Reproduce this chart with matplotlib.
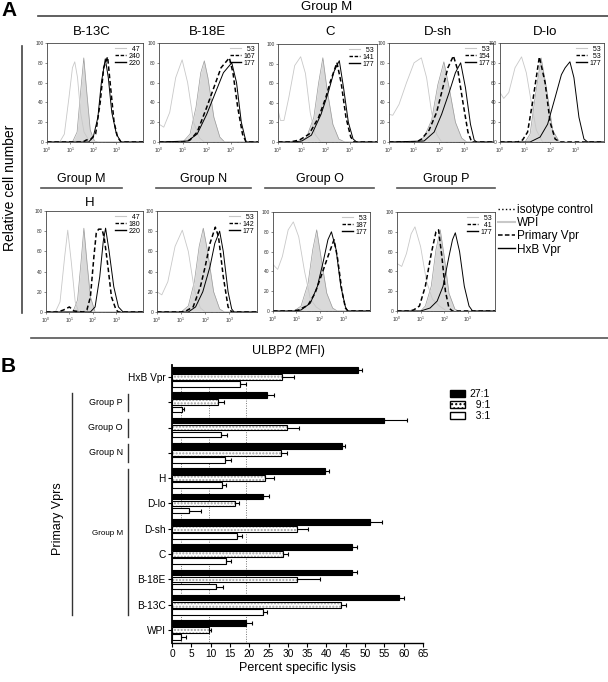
import numpy as np
import matplotlib
matplotlib.use("Agg")
import matplotlib.pyplot as plt
import matplotlib.transforms as mtransforms
from matplotlib.lines import Line2D
from matplotlib.patches import Patch

plt.rcParams['font.family'] = ['Liberation Sans', 'DejaVu Sans']

# ---------------- panel A data: (log10 MFI, relative cell number)
b13c_iso = [(0, 0), (0.55, 0), (0.75, 8), (0.95, 45), (1.1, 75), (1.2, 81), (1.32, 65), (1.45, 30), (1.6, 10), (1.8, 2), (2.0, 0), (4.15, 0)]
b13c_wpi = [(0, 0), (1.1, 0), (1.3, 10), (1.45, 50), (1.59, 85), (1.72, 50), (1.87, 12), (2.05, 1), (2.2, 0), (4.15, 0)]
b13c_prim = [(0, 0), (1.55, 0), (1.7, 2), (1.9, 3), (2.1, 8), (2.3, 40), (2.45, 75), (2.62, 86), (2.75, 55), (2.9, 20), (3.05, 5), (3.2, 0), (4.15, 0)]
b13c_hxb = [(0, 0), (1.8, 0), (2.0, 5), (2.2, 25), (2.35, 60), (2.52, 84), (2.65, 65), (2.8, 30), (3.0, 8), (3.2, 0), (4.15, 0)]

b18e_iso = [(0, 18), (0.2, 15), (0.45, 30), (0.7, 65), (0.97, 83), (1.2, 60), (1.45, 20), (1.7, 4), (1.9, 0), (4.15, 0)]
b18e_wpi = [(0, 0), (1.0, 0), (1.3, 8), (1.55, 35), (1.75, 70), (1.9, 82), (2.05, 65), (2.3, 25), (2.55, 5), (2.75, 0), (4.15, 0)]
b18e_prim = [(0, 0), (1.1, 0), (1.3, 2), (1.6, 10), (2.0, 35), (2.3, 55), (2.6, 75), (2.95, 85), (3.1, 70), (3.3, 35), (3.5, 8), (3.65, 0), (4.15, 0)]
b18e_hxb = [(0, 0), (1.2, 1), (1.6, 8), (2.0, 28), (2.4, 52), (2.7, 70), (3.05, 80), (3.25, 60), (3.45, 20), (3.65, 0), (4.15, 0)]

c_iso = [(0, 33), (0.1, 22), (0.25, 22), (0.45, 45), (0.7, 78), (0.95, 87), (1.15, 70), (1.35, 30), (1.55, 8), (1.8, 0), (4.15, 0)]
c_wpi = [(0, 0), (0.9, 0), (1.2, 5), (1.5, 25), (1.7, 60), (1.88, 86), (2.05, 55), (2.3, 18), (2.55, 3), (2.8, 0), (4.15, 0)]
c_prim = [(0, 0), (0.5, 0), (0.9, 2), (1.3, 8), (1.7, 25), (2.0, 45), (2.2, 62), (2.47, 81), (2.65, 60), (2.85, 25), (3.05, 5), (3.2, 0), (4.15, 0)]
c_hxb = [(0, 0), (0.6, 0), (1.0, 1), (1.4, 7), (1.8, 28), (2.1, 50), (2.35, 72), (2.57, 83), (2.75, 55), (2.95, 20), (3.15, 3), (3.3, 0), (4.15, 0)]

dsh_iso = [(0, 28), (0.15, 27), (0.4, 38), (0.7, 60), (1.0, 80), (1.29, 85), (1.5, 65), (1.7, 30), (1.9, 8), (2.1, 0), (4.15, 0)]
dsh_wpi = [(0, 0), (1.1, 0), (1.4, 5), (1.7, 22), (1.95, 58), (2.19, 81), (2.4, 55), (2.65, 20), (2.9, 4), (3.1, 0), (4.15, 0)]
dsh_prim = [(0, 0), (1.1, 0), (1.3, 3), (1.6, 12), (1.9, 30), (2.15, 55), (2.35, 75), (2.57, 87), (2.75, 72), (2.95, 40), (3.15, 10), (3.3, 0), (4.15, 0)]
dsh_hxb = [(0, 0), (1.4, 1), (1.8, 10), (2.1, 28), (2.4, 50), (2.65, 70), (2.86, 80), (3.05, 55), (3.25, 18), (3.4, 2), (3.5, 0), (4.15, 0)]

dlo_iso = [(0, 50), (0.15, 44), (0.35, 50), (0.6, 75), (0.86, 86), (1.05, 70), (1.25, 40), (1.45, 12), (1.7, 0), (4.15, 0)]
dlo_wpi = [(0, 0), (1.0, 0), (1.2, 8), (1.4, 45), (1.64, 85), (1.85, 55), (2.1, 12), (2.35, 1), (2.5, 0), (4.15, 0)]
dlo_prim = [(0, 0), (0.7, 0), (0.9, 2), (1.1, 10), (1.3, 40), (1.57, 86), (1.8, 60), (2.0, 20), (2.2, 3), (2.4, 0), (4.15, 0)]
dlo_hxb = [(0, 0), (1.2, 0), (1.6, 5), (1.9, 18), (2.2, 45), (2.45, 68), (2.6, 75), (2.79, 81), (2.95, 65), (3.15, 25), (3.35, 3), (3.5, 0), (4.15, 0)]

h_iso = [(0, 0), (0.4, 0), (0.6, 10), (0.8, 55), (0.93, 81), (1.08, 50), (1.25, 10), (1.4, 0), (4.15, 0)]
h_wpi = [(0, 0), (1.15, 0), (1.35, 12), (1.5, 50), (1.62, 83), (1.75, 50), (1.9, 15), (2.1, 0), (4.15, 0)]
h_prim = [(0, 0), (0.5, 0), (0.75, 2), (1.0, 5), (1.2, 1), (1.6, 0), (1.75, 2), (1.9, 15), (2.05, 55), (2.15, 78), (2.25, 82), (2.4, 82), (2.5, 72), (2.65, 45), (2.8, 15), (3.0, 2), (3.1, 0), (4.15, 0)]
h_hxb = [(0, 0), (1.9, 0), (2.1, 5), (2.3, 35), (2.45, 70), (2.55, 83), (2.7, 60), (2.9, 25), (3.1, 5), (3.3, 0), (4.15, 0)]

n_iso = [(0, 20), (0.2, 17), (0.45, 30), (0.75, 65), (1.05, 81), (1.3, 60), (1.55, 22), (1.8, 4), (2.0, 0), (4.15, 0)]
n_wpi = [(0, 0), (1.0, 0), (1.3, 6), (1.55, 30), (1.75, 65), (1.92, 83), (2.1, 60), (2.35, 20), (2.6, 3), (2.8, 0), (4.15, 0)]
n_prim = [(0, 0), (1.0, 0), (1.2, 1), (1.5, 5), (1.8, 25), (2.0, 45), (2.2, 68), (2.42, 84), (2.55, 75), (2.75, 35), (2.95, 5), (3.1, 0), (4.15, 0)]
n_hxb = [(0, 0), (1.3, 0), (1.6, 5), (1.9, 20), (2.2, 45), (2.4, 68), (2.6, 80), (2.75, 60), (2.95, 20), (3.1, 3), (3.2, 0), (4.15, 0)]

o_iso = [(0, 47), (0.2, 42), (0.4, 55), (0.65, 82), (0.87, 90), (1.1, 75), (1.35, 40), (1.6, 12), (1.85, 4), (2.1, 0), (4.15, 0)]
o_wpi = [(0, 0), (0.9, 0), (1.2, 5), (1.5, 28), (1.7, 62), (1.87, 82), (2.05, 55), (2.3, 18), (2.55, 3), (2.75, 0), (4.15, 0)]
o_prim = [(0, 0), (0.8, 0), (1.1, 1), (1.5, 6), (1.8, 18), (2.1, 38), (2.35, 55), (2.61, 72), (2.75, 55), (2.95, 20), (3.1, 3), (3.2, 0), (4.15, 0)]
o_hxb = [(0, 0), (0.9, 0), (1.2, 1), (1.6, 8), (1.9, 25), (2.15, 50), (2.35, 72), (2.5, 80), (2.7, 62), (2.9, 25), (3.1, 4), (3.2, 0), (4.15, 0)]

p_iso = [(0, 48), (0.2, 45), (0.4, 58), (0.6, 78), (0.76, 85), (1.0, 65), (1.25, 30), (1.5, 12), (1.8, 5), (2.1, 0), (4.15, 0)]
p_wpi = [(0, 0), (1.0, 0), (1.2, 5), (1.45, 25), (1.65, 62), (1.83, 82), (2.0, 55), (2.2, 18), (2.45, 2), (2.6, 0), (4.15, 0)]
p_prim = [(0, 0), (0.5, 0), (0.7, 1), (0.95, 5), (1.2, 25), (1.45, 58), (1.65, 80), (1.76, 82), (1.9, 55), (2.05, 20), (2.2, 3), (2.35, 0), (4.15, 0)]
p_hxb = [(0, 0), (1.0, 0), (1.4, 3), (1.7, 10), (1.95, 25), (2.2, 55), (2.35, 72), (2.47, 79), (2.65, 60), (2.85, 25), (3.05, 5), (3.2, 0), (4.15, 0)]

# MFI values printed in each histogram (WPI, primary Vpr, HxB Vpr)
mfi_b13c = [47, 240, 220]
mfi_b18e = [53, 167, 177]
mfi_c = [53, 141, 177]
mfi_dsh = [53, 154, 177]
mfi_dlo = [53, 53, 177]
mfi_h = [47, 180, 220]
mfi_n = [53, 142, 177]
mfi_o = [53, 187, 177]
mfi_p = [53, 41, 177]

# ---------------- panel B data
cats = ["HxB Vpr", "Group P", "Group O", "Group N", "H", "D-lo", "D-sh", "C", "B-18E", "B-13C", "WPI"]
lysis_27 = [48.1, 24.7, 54.9, 44.1, 39.7, 23.5, 51.2, 46.7, 46.5, 58.7, 19.2]
err_27 = [1.2, 1.8, 5.9, 0.7, 1.0, 1.7, 3.3, 1.1, 1.5, 1.3, 1.4]
lysis_9 = [28.4, 11.8, 29.7, 28.1, 24.0, 16.4, 32.4, 28.8, 32.3, 43.7, 9.7]
err_9 = [3.3, 1.7, 3.2, 1.7, 2.4, 0.9, 2.7, 1.2, 6.1, 1.3, 0.3]
lysis_3 = [17.7, 2.7, 12.7, 13.7, 12.9, 4.3, 16.8, 13.9, 11.4, 23.6, 2.4]
err_3 = [1.5, 0.4, 1.5, 1.5, 1.1, 3.2, 1.3, 1.4, 1.7, 1.0, 1.3]

W, H = 608, 682
fig = plt.figure(figsize=(6.08, 6.82), dpi=100)


def fx(px):
    return px / W


def fy(py):
    return 1 - py / H


def box(l, t, w, h):
    return [l / W, 1 - (t + h) / H, w / W, h / H]


def histo(rect, iso, wpi, prim, hxb, nums):
    ax = fig.add_axes(rect)
    x = 10 ** np.array([p[0] for p in wpi])
    y = [p[1] for p in wpi]
    ax.fill_between(x, y, color='#d9d9d9', lw=0)
    ax.plot(x, y, color='#9a9a9a', lw=0.5)
    ax.plot(10 ** np.array([p[0] for p in iso]), [p[1] for p in iso], color='#c8c8c8', lw=0.6)
    ax.plot(10 ** np.array([p[0] for p in hxb]), [p[1] for p in hxb], color='black', lw=0.7)
    ax.plot(10 ** np.array([p[0] for p in prim]), [p[1] for p in prim], color='black', lw=1.1,
            dashes=(3, 1.8))
    ax.set_xscale('log')
    ax.set_xlim(1, 10 ** 4.15)
    ax.set_ylim(0, 100)
    ax.set_xticks([1, 10, 100, 1000])
    ax.set_yticks(range(0, 101, 20))
    ax.tick_params(labelsize=3.5, length=1.5, width=0.4, pad=1, colors='#333333')
    ax.tick_params(which='minor', length=0.8, width=0.3)
    for s in ax.spines.values():
        s.set_linewidth(0.6)
        s.set_color('#444444')
    hs = [Line2D([], [], color='#c8c8c8', lw=0.8),
          Line2D([], [], color='black', lw=1.0, dashes=(2.5, 1.2)),
          Line2D([], [], color='black', lw=1.0)]
    labs = [str(v).rjust(3, '\u2007') for v in nums]
    ax.legend(hs, labs, loc='upper right', fontsize=5, frameon=False, handlelength=1.6,
              handletextpad=0.3, labelspacing=0.0, borderpad=0.2, borderaxespad=0.2)
    return ax


# ---------------- panel A
fig.text(fx(9), fy(10), "A", fontsize=15, fontweight='bold', ha='center', va='center')
fig.add_artist(Line2D([fx(38), fx(608)], [fy(16), fy(16)], color='#444444', lw=1.2))
fig.text(fx(327), fy(7), "Group M", fontsize=9.5, ha='center', va='center')

top = [("B-13C", (47, 43, 96, 99), 92, b13c_iso, b13c_wpi, b13c_prim, b13c_hxb, mfi_b13c),
       ("B-18E", (159, 43, 99, 99), 207, b18e_iso, b18e_wpi, b18e_prim, b18e_hxb, mfi_b18e),
       ("C", (278, 44, 99, 98), 330, c_iso, c_wpi, c_prim, c_hxb, mfi_c),
       ("D-sh", (389, 43, 104, 99), 438, dsh_iso, dsh_wpi, dsh_prim, dsh_hxb, mfi_dsh),
       ("D-lo", (500, 43, 104, 99), 545, dlo_iso, dlo_wpi, dlo_prim, dlo_hxb, mfi_dlo)]
for name, r, tx, a, b, c, d, m in top:
    histo(box(*r), a, b, c, d, m)
    fig.text(fx(tx), fy(32), name, fontsize=9.5, ha='center', va='center')

bottom = [((46, 211, 97, 101), h_iso, h_wpi, h_prim, h_hxb, mfi_h),
          ((157, 211, 100, 101), n_iso, n_wpi, n_prim, n_hxb, mfi_n),
          ((273, 212, 97, 99), o_iso, o_wpi, o_prim, o_hxb, mfi_o),
          ((397, 212, 98, 99), p_iso, p_wpi, p_prim, p_hxb, mfi_p)]
for r, a, b, c, d, m in bottom:
    histo(box(*r), a, b, c, d, m)

# group headers for lower row
for name, x0, x1 in [("Group M", 41, 122), ("Group N", 156, 251), ("Group O", 265, 374), ("Group P", 397, 495)]:
    fig.text(fx((x0 + x1) / 2), fy(179), name, fontsize=9, ha='center', va='center')
    fig.add_artist(Line2D([fx(x0), fx(x1)], [fy(188), fy(188)], color='#555555', lw=1.2))
fig.text(fx(90), fy(203), "H", fontsize=9.5, ha='center', va='center')

# overall legend
leg_h = [Line2D([], [], color='black', lw=1.0, ls=':'),
         Line2D([], [], color='#c8c8c8', lw=1.5),
         Line2D([], [], color='black', lw=1.1, dashes=(3, 1.5)),
         Line2D([], [], color='black', lw=1.0)]
fig.legend(leg_h, ["isotype control", "WPI", "Primary Vpr", "HxB Vpr"], loc='upper left',
           bbox_to_anchor=(fx(498), fy(204)), fontsize=8.5, frameon=False, handlelength=1.4,
           handletextpad=0.2, labelspacing=0.1, borderpad=0, borderaxespad=0)

fig.add_artist(Line2D([fx(22), fx(22)], [fy(46), fy(313)], color='#444444', lw=1.2))
fig.text(fx(10), fy(188), "Relative cell number", fontsize=10, rotation=90, ha='center', va='center')
fig.add_artist(Line2D([fx(31), fx(608)], [fy(338), fy(338)], color='#555555', lw=1.2))
fig.text(fx(288), fy(351), "ULBP2 (MFI)", fontsize=9, ha='center', va='center')

# ---------------- panel B
fig.text(fx(8), fy(366), "B", fontsize=15, fontweight='bold', ha='center', va='center')
axB = fig.add_axes(box(172, 365, 251, 278))
yy = np.arange(len(cats))
zero = np.zeros(len(cats))
bh = 0.22
ekw = dict(ecolor='black', elinewidth=0.8, capsize=1.5, capthick=0.8)
axB.barh(yy - 0.28, lysis_27, height=bh, color='black', edgecolor='black', lw=0.8,
         xerr=[zero, err_27], error_kw=ekw, zorder=3)
axB.barh(yy, lysis_9, height=bh, color='white', edgecolor='#a0a0a0', hatch='.....', lw=0, zorder=3)
axB.barh(yy, lysis_9, height=bh, fill=False, edgecolor='black', lw=0.8,
         xerr=[zero, err_9], error_kw=ekw, zorder=4)
axB.barh(yy + 0.28, lysis_3, height=bh, color='white', edgecolor='black', lw=0.8,
         xerr=[zero, err_3], error_kw=ekw, zorder=3)
# dotted reference lines at the WPI values
wpi_ref = [lysis_3[-1], lysis_9[-1], lysis_27[-1]]
axB.vlines(wpi_ref, 0.45, len(cats) - 0.5, colors='#777777', linestyles=(0, (1, 1.5)), lw=0.7, zorder=1)
axB.set_xlim(0, 65)
axB.set_ylim(len(cats) - 0.49, -0.47)
axB.set_xticks(range(0, 66, 5))
axB.set_yticks(yy)
axB.set_yticklabels(["" if c.startswith("Group") else c for c in cats])
axB.tick_params(labelsize=7.3, length=3, width=0.8, pad=1.5)
axB.spines['top'].set_visible(False)
axB.spines['right'].set_visible(False)
axB.spines['left'].set_linewidth(1.3)
axB.spines['bottom'].set_linewidth(1.0)
axB.set_xlabel("Percent specific lysis", fontsize=9, labelpad=2)

trans = mtransforms.blended_transform_factory(fig.transFigure, axB.transData)
for g in ["Group P", "Group O", "Group N"]:
    i = cats.index(g)
    fig.text(fx(123), i, g, fontsize=6.5, ha='right', va='center', transform=trans)
    fig.add_artist(Line2D([fx(128), fx(128)], [i - 0.34, i + 0.36], color='#333333', lw=1.0,
                          transform=trans))
iH, iB = cats.index("H"), cats.index("B-13C")
fig.add_artist(Line2D([fx(128), fx(128)], [iH - 0.36, iB + 0.4], color='#333333', lw=1.0,
                      transform=trans))
fig.text(fx(123), 6.2, "Group M", fontsize=5.8, ha='right', va='center', transform=trans)
fig.add_artist(Line2D([fx(72), fx(72)], [cats.index("Group P") - 0.36, iB + 0.4], color='#333333',
                      lw=1.0, transform=trans))
fig.text(fx(58), 5.6, "Primary Vprs", fontsize=9, rotation=90, ha='center', va='center', transform=trans)

legB = [Patch(facecolor='black', edgecolor='black'),
        Patch(facecolor='white', edgecolor='black', hatch='....'),
        Patch(facecolor='white', edgecolor='black')]
fig.legend(legB, ["27:1", "  9:1", "  3:1"], loc='upper left', bbox_to_anchor=(fx(450), fy(389)),
           fontsize=7.5, frameon=False, handlelength=1.4, handleheight=0.7, labelspacing=0.1,
           handletextpad=0.5, borderpad=0, borderaxespad=0)

fig.savefig("out.png", dpi=100)
